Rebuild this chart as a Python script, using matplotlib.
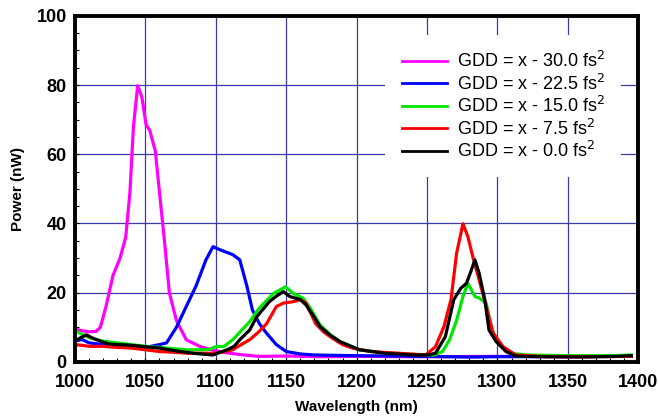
import matplotlib
matplotlib.use("Agg")
import matplotlib.pyplot as plt
from matplotlib.ticker import MultipleLocator

plt.rcParams['font.family'] = ['Liberation Sans', 'DejaVu Sans']

# GDD = x - 30.0 fs^2
wl_m = [1000, 1005, 1010, 1015, 1018, 1022, 1027, 1032, 1036, 1039, 1041.5, 1044.5, 1047.5,
        1050.5, 1053, 1057, 1060, 1064, 1067, 1072, 1079, 1089, 1100, 1110, 1120, 1131,
        1150, 1175, 1200, 1250, 1300, 1350, 1395]
p_m = [9.5, 9, 8.7, 8.8, 10, 16, 25, 30, 36, 49, 68, 79.8, 76.5,
       68.5, 67, 61, 49, 33, 20, 12, 6.4, 4.4, 3.2, 2.5, 2, 1.6,
       1.7, 1.5, 1.6, 1.5, 1.6, 1.5, 1.7]

# GDD = x - 22.5 fs^2
wl_b = [1000, 1005, 1010, 1020, 1030, 1040, 1050, 1060, 1065, 1072, 1079, 1086, 1093, 1098,
        1103, 1112, 1117, 1122, 1126, 1131, 1136, 1143, 1150, 1160, 1170, 1200, 1250, 1280,
        1300, 1350, 1395]
p_b = [6, 6.5, 5.5, 5, 4.8, 4.5, 4.2, 5, 5.5, 10, 16, 22, 29.5, 33.3,
       32.4, 31, 29.5, 22, 15, 11, 8.3, 5, 3, 2.3, 2, 1.8, 1.6, 1.4,
       1.5, 1.6, 1.7]

# GDD = x - 15.0 fs^2
wl_g = [1000, 1005, 1010, 1020, 1030, 1040, 1050, 1060, 1070, 1080, 1090, 1095, 1100, 1106,
        1112, 1118, 1124, 1131, 1141, 1149.5, 1155, 1162, 1167, 1174, 1181, 1188, 1202, 1220,
        1240, 1255, 1261, 1266, 1271, 1275.5, 1279, 1284, 1287, 1292, 1295.5, 1299, 1308,
        1320, 1350, 1380, 1395]
p_g = [9, 8, 7, 6, 5.5, 5, 4.5, 4.2, 3.8, 3.5, 3.5, 3.6, 4.4, 4.5,
       6.4, 9, 11.6, 15.6, 19.8, 21.7, 19.8, 18.4, 15.6, 10.7, 8, 5.9, 3.5, 2.6,
       2.2, 2, 3, 6.4, 12, 18.9, 22.7, 18.9, 18.5, 17, 10.2, 6.4, 2.6,
       2, 1.8, 1.8, 2]

# GDD = x - 7.5 fs^2
wl_r = [1000, 1005, 1010, 1020, 1030, 1040, 1050, 1060, 1070, 1080, 1090, 1100, 1106, 1112,
        1118, 1124, 1130, 1136, 1143, 1148, 1155, 1160, 1164, 1171, 1177, 1183, 1190, 1197,
        1210, 1230, 1249, 1256, 1262, 1267, 1271, 1275.5, 1279, 1282.5, 1287, 1292, 1297,
        1304, 1313, 1330, 1360, 1395]
p_r = [5, 4.8, 4.5, 4.5, 4.2, 4, 3.5, 3, 2.8, 2.5, 2.5, 2.5, 3, 3.5,
       5, 6.4, 8.5, 11, 16, 17, 17.4, 18, 17, 11, 8.5, 6.8, 5, 4,
       3, 2.5, 2, 4.4, 10.2, 18, 31.4, 39.9, 36.2, 30.4, 23.7, 16, 8.3,
       4.4, 2, 1.6, 1.5, 1.6]

# GDD = x - 0.0 fs^2
wl_k = [1000, 1004, 1008, 1013, 1018, 1024, 1030, 1037, 1045, 1050, 1060, 1067, 1075, 1084,
        1092, 1098, 1103, 1108, 1113, 1117, 1124, 1129, 1138, 1143, 1148, 1152.5, 1160, 1164,
        1169, 1174, 1181, 1188, 1202, 1220, 1240, 1250, 1256, 1263, 1269, 1274, 1278, 1281,
        1284, 1287, 1291, 1294, 1299, 1306, 1313, 1330, 1360, 1385, 1395]
p_k = [6, 7, 7.8, 6.8, 6, 5.2, 5, 4.9, 4.6, 4.4, 4, 3.5, 3, 2.5,
       2.2, 2, 2.8, 3.5, 4.5, 6.4, 9.2, 13, 17.4, 19, 20.3, 18.9, 18, 16.5,
       13.5, 10.2, 7.8, 5.9, 3.5, 2.5, 2, 2, 2.5, 7.3, 18, 21.3, 22.7, 26,
       29.5, 25.6, 18, 9.2, 5.9, 3, 1.7, 1.5, 1.4, 1.6, 1.8]

series = [
    (wl_m, p_m, '#ff00ff', 'GDD = x - 30.0 fs$^2$'),
    (wl_b, p_b, '#0000ff', 'GDD = x - 22.5 fs$^2$'),
    (wl_g, p_g, '#00e600', 'GDD = x - 15.0 fs$^2$'),
    (wl_r, p_r, '#ff0000', 'GDD = x - 7.5 fs$^2$'),
    (wl_k, p_k, '#000000', 'GDD = x - 0.0 fs$^2$'),
]

fig = plt.figure(figsize=(6.58, 4.16), dpi=100)
ax = fig.add_axes([0.114, 0.130, 0.856, 0.832])

for wl, p, col, lab in series:
    ax.plot(wl, p, color=col, lw=2.3, label=lab, solid_joinstyle='round')

ax.set_xlim(1000, 1400)
ax.set_ylim(0, 100)
ax.xaxis.set_major_locator(MultipleLocator(50))
ax.yaxis.set_major_locator(MultipleLocator(20))
ax.xaxis.set_minor_locator(MultipleLocator(10))
ax.yaxis.set_minor_locator(MultipleLocator(5))
ax.grid(True, which='major', color='#3a3aa8', lw=0.9)
ax.set_axisbelow(True)
ax.tick_params(which='both', direction='in', length=3, width=0.8)
ax.tick_params(which='major', labelsize=13)
ax.tick_params(axis='x', which='major', pad=9)
ax.tick_params(axis='y', which='major', pad=6)
for lbl in ax.get_xticklabels() + ax.get_yticklabels():
    lbl.set_fontweight('bold')
for sp in ax.spines.values():
    sp.set_linewidth(2.8)

ax.set_xlabel('Wavelength (nm)', fontsize=11, fontweight='bold', labelpad=6)
ax.set_ylabel('Power (nW)', fontsize=11, fontweight='bold', labelpad=8)

leg = ax.legend(loc='upper right', bbox_to_anchor=(0.97, 0.945), fontsize=13,
                frameon=True, fancybox=False, edgecolor='none', facecolor='white',
                framealpha=1, handlelength=2.5, handletextpad=0.55, labelspacing=0.13,
                borderpad=0.9, borderaxespad=0)
for line in leg.get_lines():
    line.set_linewidth(2.0)

fig.savefig('out.png', dpi=100)
